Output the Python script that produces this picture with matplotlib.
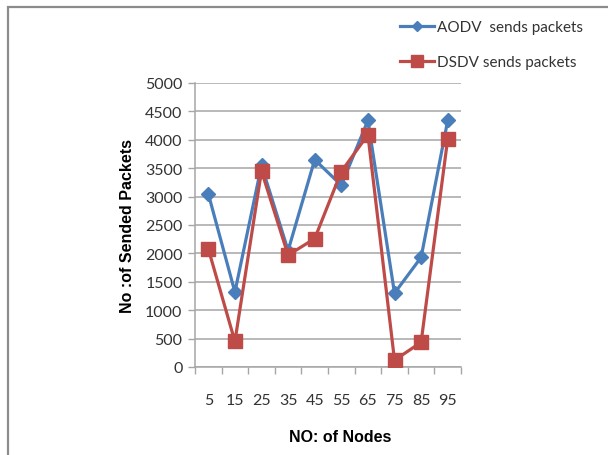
import matplotlib.pyplot as plt
import matplotlib.patches as patches
import numpy as np

nodes = ["5", "15", "25", "35", "45", "55", "65", "75", "85", "95"]
aodv_sent = [3050, 1320, 3550, 2050, 3650, 3200, 4340, 1300, 1930, 4340]
dsdv_sent = [2080, 450, 3450, 1970, 2260, 3440, 4090, 120, 435, 4015]

BLUE = "#4a7ebb"
RED = "#be4b48"
GRID = "#a6a6a6"

fig = plt.figure(figsize=(6.08, 4.56), dpi=100)
fig.patch.set_facecolor("white")

# outer chart frame (cut off at right/bottom in the reference)
frame = patches.Rectangle((8 / 608, -0.05), 1.1, (456 - 8) / 456 + 0.05,
                          transform=fig.transFigure, fill=False,
                          ec="#8c8c8c", lw=1.6, clip_on=False)
fig.add_artist(frame)

ax = fig.add_axes([195 / 608, (456 - 368) / 456, 266 / 608, 284 / 456])
x = np.arange(len(nodes))

ax.plot(x, aodv_sent, color=BLUE, lw=2.3, marker="D", ms=7,
        mfc=BLUE, mec=BLUE, label="AODV  sends packets", zorder=3)
ax.plot(x, dsdv_sent, color=RED, lw=2.3, marker="s", ms=10,
        mfc=RED, mec=RED, label="DSDV sends packets", zorder=3)

ax.set_xlim(-0.5, len(nodes) - 0.5)
ax.set_ylim(0, 5000)
ax.set_yticks(np.arange(0, 5001, 500))
ax.set_xticks(x)
ax.set_xticklabels(nodes)
ax.set_xticks(np.arange(-0.5, len(nodes), 1), minor=True)
ax.tick_params(axis="x", which="major", length=0, pad=19, labelsize=11.5)
ax.tick_params(axis="x", which="minor", length=5, color=GRID, width=1)
ax.tick_params(axis="y", length=5, color=GRID, width=1, labelsize=11.5, pad=4)
for lab in ax.get_xticklabels() + ax.get_yticklabels():
    lab.set_family("Lato")
    lab.set_color("#333333")

ax.grid(axis="y", color=GRID, lw=1.1)
ax.set_axisbelow(True)
for side in ["top", "right"]:
    ax.spines[side].set_visible(False)
for side in ["left", "bottom"]:
    ax.spines[side].set_color(GRID)
    ax.spines[side].set_linewidth(1.1)

ax.set_xlabel("NO: of Nodes", fontsize=11.5, fontweight="bold",
              family="Liberation Sans")
ax.xaxis.set_label_coords(0.545, -0.22)
ax.set_ylabel("No :of Sended Packets", fontsize=11.5, fontweight="bold",
              family="Liberation Sans")
ax.yaxis.set_label_coords(-0.225, 0.5)

leg = fig.legend(loc="upper left", bbox_to_anchor=(400 / 608, 1 - 21 / 456),
                 frameon=False, borderpad=0, borderaxespad=0,
                 handlelength=2.2, handletextpad=0.2, markerscale=0.8,
                 labelspacing=1.4, prop={"family": "Lato", "size": 11})
for t in leg.get_texts():
    t.set_color("#333333")

plt.savefig("out.png", dpi=100, facecolor="white")
